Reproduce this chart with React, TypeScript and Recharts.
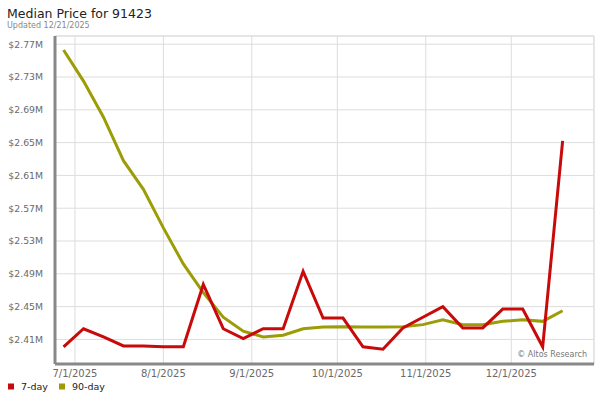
import { LineChart, Line, XAxis, YAxis, CartesianGrid, ReferenceLine } from "recharts";

const DAY = 86400000;

const dates = [
  "2025-06-27", "2025-07-04", "2025-07-11", "2025-07-18", "2025-07-25",
  "2025-08-01", "2025-08-08", "2025-08-15", "2025-08-22", "2025-08-29",
  "2025-09-05", "2025-09-12", "2025-09-19", "2025-09-26", "2025-10-03",
  "2025-10-10", "2025-10-17", "2025-10-24", "2025-10-31", "2025-11-07",
  "2025-11-14", "2025-11-21", "2025-11-28", "2025-12-05", "2025-12-12",
  "2025-12-19",
];

const sevenDay = [
  2401000, 2423000, 2413000, 2402000, 2402000, 2401000, 2401000, 2477000, 2423000, 2411000,
  2423000, 2423000, 2493000, 2436000, 2436000, 2401000, 2398000, 2424000, 2437000, 2450000,
  2424000, 2424000, 2447000, 2447000, 2401000, 2652000,
];

const ninetyDay = [
  2763000, 2725000, 2681000, 2628000, 2593000, 2546000, 2502000, 2467000, 2437000, 2420000,
  2413000, 2415000, 2423000, 2425000, 2425500, 2425000, 2425000, 2425500, 2428000, 2434000,
  2428000, 2428000, 2432000, 2434000, 2432000, 2445000,
];

const yTicks = [2410000, 2450000, 2490000, 2530000, 2570000, 2610000, 2650000, 2690000, 2730000, 2770000];
const xTickDates = ["2025-07-01", "2025-08-01", "2025-09-01", "2025-10-01", "2025-11-01", "2025-12-01"];

const toDay = (s: string) => Date.parse(s + "T00:00:00Z") / DAY;
const fmtDate = (d: number) => {
  const dt = new Date(Math.round(d) * DAY);
  return `${dt.getUTCMonth() + 1}/${dt.getUTCDate()}/${dt.getUTCFullYear()}`;
};
const fmtPrice = (v: number) => `$${(v / 1e6).toFixed(2)}M`;

const data = dates.map((d, i) => ({ t: toDay(d), seven: sevenDay[i], ninety: ninetyDay[i] }));
const xTicks = xTickDates.map(toDay);
const xMin = toDay("2025-06-24");
const xMax = toDay("2025-12-30");

const RED = "#c80a0a";
const OLIVE = "#9c9c06";
const FONT = "DejaVu Sans, Verdana, sans-serif";

export default function App() {
  return (
    <div style={{ position: "absolute", left: 0, top: 0, width: 600, height: 400, background: "#fff", fontFamily: FONT }}>
      <LineChart width={600} height={400} data={data} margin={{ top: 36, right: 6, bottom: 16, left: 5 }}>
        <CartesianGrid stroke="#dddddd" ticks={yTicks} />
        <ReferenceLine y={2780000} stroke="#dddddd" />
        <ReferenceLine x={xMax} stroke="#dddddd" />
        <XAxis
          dataKey="t"
          type="number"
          domain={[xMin, xMax]}
          ticks={xTicks}
          tickFormatter={fmtDate}
          height={20}
          tickLine={false}
          tickSize={0}
          tickMargin={6}
          axisLine={{ stroke: "#888", strokeWidth: 3 }}
          tick={{ fontSize: 10, fill: "#6a6a6a", fontFamily: FONT }}
        />
        <YAxis
          type="number"
          domain={[2380000, 2780000]}
          ticks={yTicks}
          tickFormatter={fmtPrice}
          width={50}
          tickLine={false}
          tickSize={0}
          tickMargin={12}
          axisLine={{ stroke: "#888", strokeWidth: 3 }}
          tick={{ fontSize: 9.3, fill: "#6a6a6a", fontFamily: FONT }}
        />
        <Line dataKey="ninety" stroke={OLIVE} strokeWidth={3} dot={false} isAnimationActive={false} />
        <Line dataKey="seven" stroke={RED} strokeWidth={3} dot={false} isAnimationActive={false} />
      </LineChart>
      <svg width={600} height={400} style={{ position: "absolute", left: 0, top: 0, pointerEvents: "none" }}>
        <text x={7} y={18} fontSize={12.5} fill="#222" fontFamily={FONT}>Median Price for 91423</text>
        <text x={7} y={28} fontSize={8} fill="#888" fontFamily={FONT}>Updated 12/21/2025</text>
        <text x={587} y={357} fontSize={8} fill="#777" textAnchor="end" fontFamily={FONT}>© Altos Research</text>
        <rect x={8} y={383.5} width={6} height={6} fill={RED} />
        <text x={21} y={390} fontSize={9.5} fill="#222" fontFamily={FONT}>7-day</text>
        <rect x={59} y={383.5} width={6} height={6} fill={OLIVE} />
        <text x={72} y={390} fontSize={9.5} fill="#222" fontFamily={FONT}>90-day</text>
      </svg>
    </div>
  );
}
